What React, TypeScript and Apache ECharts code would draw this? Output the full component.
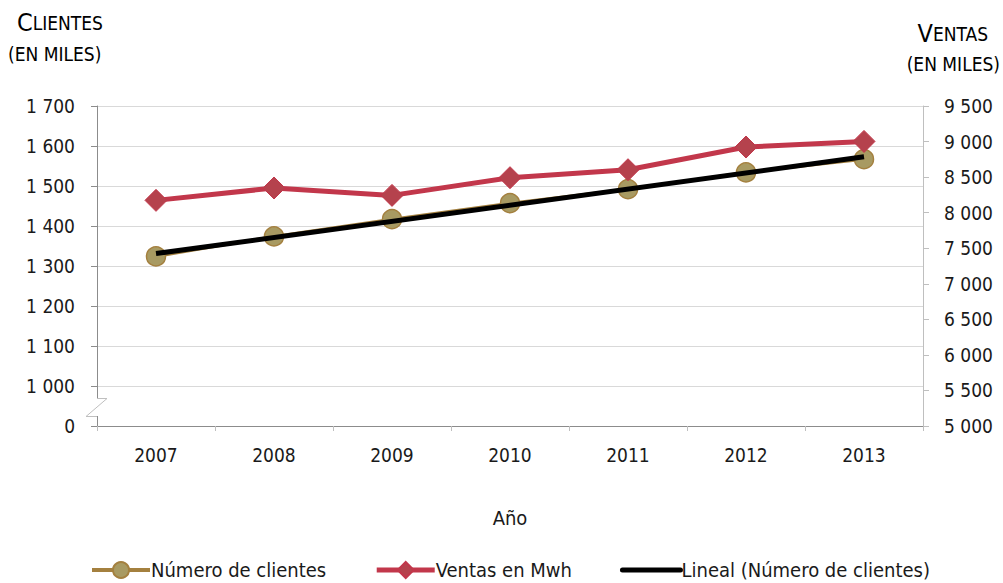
import React, { useEffect, useRef } from "react";
import * as echarts from "echarts";

const years = ["2007", "2008", "2009", "2010", "2011", "2012", "2013"];
const clientes = [1324, 1374, 1417, 1457, 1492, 1534, 1567];
const ventas = [8173, 8347, 8243, 8492, 8604, 8923, 9002];
const trendYears = ["2007", "2013"];
const trendValues = [1331, 1573];
const leftTicks = { min: 900, max: 1700, interval: 100 };
const rightTicks = { min: 5000, max: 9500, interval: 500 };

const FONT = "'DejaVu Sans Condensed', 'Liberation Sans Narrow', 'Roboto', sans-serif";

const fmt = (v: number) => String(v).replace(/\B(?=(\d{3})+(?!\d))/g, " ");

export default function App() {
  const ref = useRef<HTMLDivElement>(null);
  useEffect(() => {
    if (!ref.current) return;
    const chart = echarts.init(ref.current, undefined, { renderer: "svg" });
    const rich = {
      c: { fontFamily: FONT, fontSize: 25, color: "#1a1a1a" },
      s: { fontFamily: FONT, fontSize: 19, color: "#1a1a1a" },
    };
    chart.setOption({
      animation: false,
      textStyle: { fontFamily: FONT },
      grid: { left: 97, right: 80, top: 106, bottom: 157, containLabel: false },
      xAxis: {
        type: "category",
        data: years,
        boundaryGap: true,
        name: "Año",
        nameLocation: "middle",
        nameGap: 82,
        nameTextStyle: { fontFamily: FONT, fontSize: 20, color: "#1a1a1a" },
        axisLine: { lineStyle: { color: "#8c8c8c", width: 1 } },
        axisTick: { show: true, length: 5, lineStyle: { color: "#bfbfbf" } },
        axisLabel: { fontFamily: FONT, fontSize: 19, color: "#1a1a1a", margin: 19 },
      },
      yAxis: [
        {
          type: "value",
          min: leftTicks.min,
          max: leftTicks.max,
          interval: leftTicks.interval,
          position: "left",
          axisLine: { show: true, lineStyle: { color: "#8c8c8c", width: 1 } },
          axisTick: { show: true, length: 6, lineStyle: { color: "#8c8c8c" } },
          axisLabel: {
            fontFamily: FONT,
            fontSize: 19,
            color: "#1a1a1a",
            margin: 22,
            formatter: (v: number) => (v === leftTicks.min ? "0" : fmt(v)),
          },
          splitLine: { show: true, lineStyle: { color: "#d9d9d9", width: 1 } },
        },
        {
          type: "value",
          min: rightTicks.min,
          max: rightTicks.max,
          interval: rightTicks.interval,
          position: "right",
          axisLine: { show: true, lineStyle: { color: "#bfbfbf", width: 1 } },
          axisTick: { show: true, length: 6, lineStyle: { color: "#bfbfbf" } },
          axisLabel: {
            fontFamily: FONT,
            fontSize: 19,
            color: "#1a1a1a",
            margin: 21,
            formatter: (v: number) => fmt(v),
          },
          splitLine: { show: false },
        },
      ],
      legend: {
        top: 555,
        left: 85,
        itemWidth: 58,
        itemHeight: 20,
        itemGap: 48,
        textStyle: { fontFamily: FONT, fontSize: 20, color: "#1a1a1a", padding: [0, 0, 0, -4] },
        data: [
          { name: "Número de clientes", lineStyle: { width: 4, color: "#a4803f" } },
          { name: "Ventas en Mwh", lineStyle: { width: 5, color: "#c2374b" } },
          {
            name: "Lineal (Número de clientes)",
            lineStyle: { width: 5, color: "#000000", cap: "round" },
            itemStyle: { color: "rgba(0,0,0,0)", borderColor: "rgba(0,0,0,0)", borderWidth: 0 },
          },
        ],
      },
      series: [
        {
          name: "Número de clientes",
          type: "line",
          yAxisIndex: 0,
          data: clientes,
          z: 2,
          lineStyle: { color: "#a4803f", width: 3 },
          itemStyle: { color: "#a89a62", borderColor: "#a4803f", borderWidth: 1.5 },
          symbol: "circle",
          symbolSize: 19,
        },
        {
          name: "Ventas en Mwh",
          type: "line",
          yAxisIndex: 1,
          data: ventas,
          z: 4,
          lineStyle: { color: "#c2374b", width: 5 },
          itemStyle: { color: "#b5424d", borderColor: "#c2374b", borderWidth: 1 },
          symbol: "diamond",
          symbolSize: 22,
        },
        {
          name: "Lineal (Número de clientes)",
          type: "line",
          yAxisIndex: 0,
          data: trendYears.map((y, i) => [y, trendValues[i]]),
          z: 3,
          lineStyle: { color: "#000000", width: 5 },
          itemStyle: { color: "#000000" },
          symbol: "none",
        },
      ],
      graphic: [
        {
          type: "text",
          left: 17,
          top: 10,
          style: { text: "{c|C}{s|LIENTES}", rich },
        },
        {
          type: "text",
          left: 8,
          top: 44,
          style: { text: "{s|(EN MILES)}", rich },
        },
        {
          type: "text",
          right: 15,
          top: 21,
          style: { text: "{c|V}{s|ENTAS}", rich },
        },
        {
          type: "text",
          right: 3,
          top: 54,
          style: { text: "{s|(EN MILES)}", rich },
        },
        {
          type: "rect",
          z: 100,
          shape: { x: 94, y: 399, width: 6, height: 17 },
          style: { fill: "#ffffff" },
        },
        {
          type: "polyline",
          z: 101,
          shape: {
            points: [
              [97, 398.5],
              [107, 398.5],
              [86, 416.5],
              [97, 416.5],
            ],
          },
          style: { stroke: "#bfbfbf", lineWidth: 1, fill: null },
        },
      ],
    });
    return () => chart.dispose();
  }, []);
  return <div ref={ref} style={{ width: 1003, height: 583, position: "absolute", left: 0, top: 0 }} />;
}
